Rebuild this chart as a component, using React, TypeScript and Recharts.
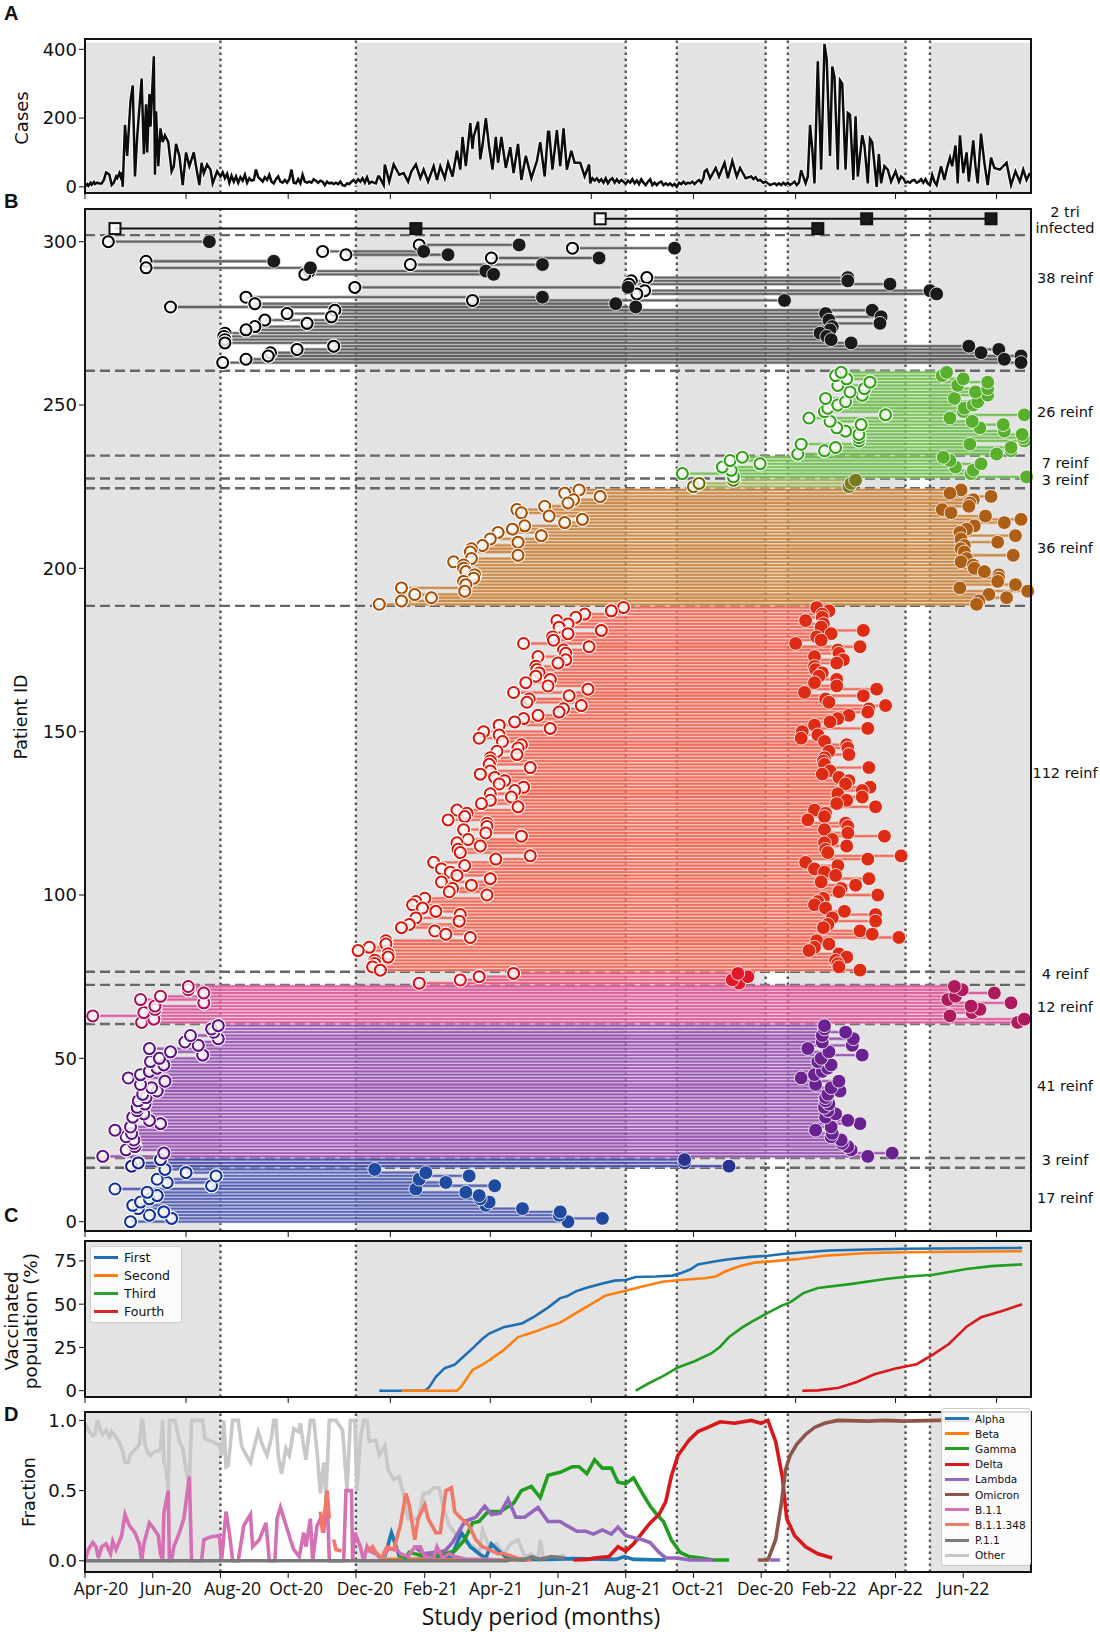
import { ComposedChart, ScatterChart, Scatter, Line, XAxis, YAxis, ReferenceArea, ReferenceLine } from 'recharts';

// days are counted from 1 Apr 2020
const quarterTicks = [0, 91, 183, 275, 365, 456, 548, 640, 730, 821];
const monthTicks = [0, 61, 122, 183, 244, 306, 365, 426, 487, 548, 609, 671, 730, 791];
const monthLabels = ['Apr-20', 'Jun-20', 'Aug-20', 'Oct-20', 'Dec-20', 'Feb-21', 'Apr-21', 'Jun-21', 'Aug-21', 'Oct-21', 'Dec-20', 'Feb-22', 'Apr-22', 'Jun-22'];
const grayBands = [[0, 122], [244, 487], [533, 613], [633, 739], [761, 852]];
const waveEdges = [122, 244, 487, 533, 613, 633, 739, 761];

// panel A
const casesDays = [0,2,3,5,6,8,9,11,13,15,17,19,20,22,24,26,28,29,31,32,33,34,36,38,41,43,45,47,51,53,55,56,58,59,62,63,64,66,68,70,72,75,78,80,82,85,88,91,94,98,100,103,105,107,110,113,115,119,
  122,124,126,128,130,132,134,136,138,140,142,144,146,148,150,152,154,156,158,160,162,164,166,168,170,172,174,176,178,180,182,184,186,188,190,192,194,196,198,200,202,204,206,208,210,212,214,216,218,220,222,224,226,228,230,232,234,236,238,240,242,244,246,248,250,252,254,256,258,260,262,264,
  265,269,270,274,278,283,287,291,294,298,302,305,309,314,317,320,324,327,331,335,338,340,343,347,349,350,354,356,358,361,364,367,370,372,375,379,383,386,390,393,397,402,407,410,414,417,
  418,421,425,428,431,434,438,441,446,450,454,455,457,459,461,463,465,467,469,471,473,475,477,479,481,483,485,487,489,491,493,495,497,499,501,503,505,507,509,511,513,515,517,519,521,523,525,527,529,531,533,535,537,539,541,543,545,547,549,551,553,555,557,558,560,563,568,571,576,579,583,587,590,595,600,602,604,606,608,611,613,615,617,619,621,623,625,627,629,631,633,635,637,639,641,643,645,649,651,653,655,657,660,663,666,668,671,673,675,678,680,682,685,687,689,692,694,696,700,702,705,707,709,713,715,717,720,723,726,730,733,735,737,739,741,743,745,747,749,751,753,755,757,759,761,763,765,767,771,774,776,779,781,784,786,788,791,794,796,800,802,804,807,810,813,816,819,824,830,834,838,842,845,848,851];
const casesCounts = [0,8,3,12,6,14,8,12,10,10,20,42,40,35,5,12,30,25,40,30,42,0,180,90,250,295,30,145,315,95,240,100,270,175,380,35,220,60,170,130,150,130,45,60,125,90,5,100,60,100,60,5,70,40,65,50,10,45,
  30,42,25,38,12,32,15,30,12,28,18,35,12,25,18,20,50,28,22,15,28,20,35,15,10,22,30,15,12,20,12,22,50,12,10,22,10,35,15,12,15,12,22,18,12,18,15,5,15,10,12,8,12,8,15,5,3,10,8,15,20,12,22,15,25,12,28,10,15,12,10,30,
  30,5,65,15,65,35,40,15,45,65,25,50,15,60,20,60,25,70,30,105,50,145,60,185,110,145,190,80,120,200,115,50,145,70,145,55,115,40,125,20,90,25,75,130,30,160,
  160,50,165,60,170,50,105,70,70,30,65,10,25,18,25,15,22,12,25,10,20,25,12,22,12,20,15,8,18,12,22,10,18,8,22,12,5,15,22,5,12,5,12,15,5,10,5,10,3,8,0,12,8,15,8,12,10,15,8,15,20,12,25,45,50,25,55,30,70,25,75,30,55,25,30,22,28,18,20,12,15,10,5,8,10,5,10,5,12,6,12,5,10,15,5,12,48,10,30,180,110,10,365,50,415,370,90,350,320,50,310,300,50,215,210,20,205,30,150,120,10,140,130,0,95,10,60,50,15,45,15,30,25,12,15,12,18,20,12,15,22,12,22,10,5,35,15,5,60,20,50,85,60,120,10,150,40,100,15,135,60,10,155,70,5,85,55,50,70,5,45,15,50,20,40];

// panel B, first and second infection day of each patient
const blueFirst = [41,78,58,71,48,43,50,58,65,56,27,114,74,65,118,91,72];
const blueSecond = [435,466,427,428,394,361,364,356,355,343,298,369,325,301,346,307,261];
const navyFirst = [42,48,68];
const navySecond = [580,540,540];
const purpleFirst = [16,71,37,45,44,44,37,42,27,41,68,58,43,53,47,47,54,48,55,52,65,60,50,72,39,50,58,65,71,59,67,106,77,58,102,90,120,95,116,114,120];
const purpleSecond = [705,727,690,687,682,681,672,673,658,672,698,687,667,676,669,666,670,667,667,669,680,672,658,679,645,657,664,669,672,660,663,700,670,651,691,664,692,664,685,666,666];
const magentaFirst = [51,62,7,53,63,63,107,50,68,107,93,93];
const magentaSecond = [840,846,779,799,806,798,834,777,784,819,790,783];
const crimsonFirst = [301,338,355,386];
const crimsonSecond = [589,583,597,588];
// red, brown and black are listed from the top row down
const redFirst = [485,474,450,442,425,435,427,465,435,421,422,395,454,431,433,408,433,426,406,407,409,406,419,397,417,453,386,436,400,398,447,431,427,408,395,387,373,419,359,373,355,376,393,390,371,389,365,365,364,401,365,356,369,378,373,395,387,365,384,365,357,390,335,344,342,327,362,362,341,361,393,345,335,356,336,338,401,370,314,342,321,329,335,365,321,348,331,328,362,306,298,295,304,316,338,298,337,292,285,315,325,347,271,271,256,246,273,273,261,261,259,266];
const redSecond = [659,670,664,664,649,665,663,701,672,659,663,640,698,678,679,657,683,677,657,658,664,661,677,657,677,713,648,701,667,670,721,706,705,688,678,671,657,705,646,660,645,666,686,687,670,688,666,665,666,706,671,664,679,688,685,707,700,678,700,686,677,712,657,667,666,651,685,687,666,687,720,673,666,686,667,669,735,705,649,678,657,666,676,706,663,694,681,679,714,665,660,657,667,684,712,673,712,669,665,698,709,733,659,670,657,652,679,686,676,678,679,698];
const brownFirst = [445,432,464,440,435,414,389,393,418,448,432,396,385,372,411,365,390,358,348,347,390,348,332,341,341,343,351,350,341,343,285,342,297,312,285,265];
const brownSecond = [789,779,816,800,797,796,772,780,811,843,828,801,794,788,838,789,822,792,789,792,836,794,789,800,801,810,823,823,822,838,788,849,814,830,805,803];
const oliveFirst = [548,553,584];
const oliveSecond = [688,690,694];
const greenSmallFirst = [584,538,582,574,608,581,592];
const greenSmallSecond = [848,798,800,784,807,779,773];
const greenFirst = [642,666,676,645,697,697,697,685,677,699,671,652,721,666,669,678,685,667,700,689,702,678,707,686,676,681];
const greenSecond = [821,834,834,797,846,845,844,828,806,827,799,779,846,791,792,800,804,783,813,802,813,786,813,791,772,776];
const blackFirst = [21,301,439,214,235,366,55,293,55,202,198,506,492,490,243,504,497,145,349,153,77,225,182,222,162,200,153,145,126,125,126,126,224,191,167,165,145,124];
const blackSecond = [112,391,531,305,327,463,170,412,203,361,368,687,687,725,489,761,767,412,630,478,496,709,667,717,670,716,673,671,662,668,672,690,796,823,807,843,828,843];
const triFirstRow = [27, 298, 660];
const triSecondRow = [464, 704, 816];
const groupBreaks = [17, 20, 61, 73, 77, 189, 225, 228, 235, 261, 302];

// panel C
const firstDoseDays = [265,306,310,316,324,333,339,350,358,364,377,394,405,417,428,434,442,451,466,477,487,496,514,529,537,545,552,568,580,600,615,628,647,670,705,737,768,844];
const firstDose = [0,0,2,8,13,15,18.6,25,30,33,36.6,39,43,48,53.5,54.5,57.4,59.3,62,63.6,64,65.7,66,66.5,68,70,73,74.8,76,77.3,78,79,80,81,81.6,82,82.2,82.5];
const secondDoseDays = [285,335,339,349,358,364,377,390,405,417,428,437,447,456,469,487,501,520,536,558,568,577,590,603,615,641,666,705,737,844];
const secondDose = [0,0,2.5,12,15,17.6,23.4,31,34,37,39.3,42.8,46.7,50,55,57.7,60,63,64,65,66,69,72,74,74.6,76,78,79.6,80,80.6];
const thirdDoseDays = [496,507,521,534,549,564,572,580,592,601,615,627,635,647,660,689,721,742,764,794,816,844];
const thirdDose = [0,4,8.5,13.4,17,21.5,25.4,31,36.6,40,45,49,51,56.4,59.3,61.6,64.5,66,67,70.3,72,73];
const fourthDoseDays = [646,660,679,695,711,730,749,764,778,794,807,826,844];
const fourthDose = [0,0.2,1.7,5,9.5,12.8,15.3,21,27,37,42.4,46,50];

// panel D
const otherDays = [0,3,7,9,11,14,16,19,22,24,28,31,34,36,39,41,45,49,51,52,54,56,59,63,66,68,70,71,73,75,76,81,85,88,92,94,96,106,108,114,121,123,125,127,129,133,138,141,144,149,152,156,160,164,168,170,172,174,177,181,184,188,192,194,196,199,203,206,209,212,215,217,220,226,232,236,239,243,245,248,251,254,256,262,265,270,273,278,283,286,291,295,300,305,309,314,319,322,328,333,339,346,350,355,358,364,371,377,383,390,396,402,408,410,413,424,430,434];
const otherShare = [.98,.93,.89,.9,1,.93,.9,.93,.88,.92,.88,.84,.78,.7,.7,.76,.79,.83,1,1,.83,.78,.75,.78,.78,.8,1,.7,.65,.5,1,1,.85,.8,.6,.55,1,1,.87,.85,.82,.75,1,.67,.68,1,1,.82,.77,.7,.8,.92,.82,.75,.88,1,1,.75,.62,.8,.75,.94,.92,.98,.86,.72,1,1,.78,.48,.7,.45,1,1,.93,.5,1,1,.5,.87,1,1,.85,.86,.75,.82,.65,.58,.6,.5,.3,.3,.3,.48,.48,.52,.52,.4,.25,.2,.15,.12,.1,.05,.22,.1,.12,.05,.12,.15,.03,.05,.01,.15,.01,.02,.04,.02];
const b11Days = [0,3,7,10,12,15,19,23,25,28,33,36,40,45,49,51,53,58,61,66,68,70,71,75,76,78,80,85,89,94,96,105,107,113,121,123,127,130,133,138,143,149,151,157,163,166,171,173,176,180,185,188,193,197,199,203,205,209,212,215,218,220,233,235,240,241,243,248,251,254,256,262,267,273,280,284,291,297,302,306,314,317,322,328,333,343,364,378];
const b11Share = [0,.08,.13,.1,.02,.1,.12,.05,.14,.08,.18,.33,.25,.2,.12,0,.12,.27,.24,.18,.05,0,.34,.5,0,0,.1,.2,.3,.6,0,0,.15,.17,.18,0,.35,.2,0,0,.25,.33,.1,.15,.27,0,0,.3,.38,.28,.15,.08,.03,.2,.1,.3,0,.25,.3,.2,.5,0,0,.5,.5,0,.2,.1,0,.1,.07,.05,.01,.08,.09,.05,.03,.1,.1,.03,.02,.1,.02,.05,.03,.01,.01,0];
const b11348Days = [212,214,218,220,222,224,226,231,240,254,259,262,267,272,278,284,289,292,297,300,306,309,316,320,325,330,333,339,346,352,358,364,372,378,385,393,402];
const b11348Share = [.35,.2,.5,.3,null,.15,.08,.07,null,.07,.1,.06,.02,.1,.08,.25,.48,.4,.15,.3,.4,.3,.2,.2,.5,.52,.35,.3,.25,.15,.1,.08,.05,.05,.03,.01,.01];
const alphaDays = [270,276,281,284,300,330,339,347,355,361,366,374,380,396,417,440,478,486,494,523];
const alphaShare = [.03,.2,.08,.01,.01,.03,.2,.1,.05,.02,.12,.06,.02,.01,.01,.015,.01,.03,.01,.005];
const betaDays = [268,300,340,400];
const betaShare = [.01,.01,.005,.005];
const gammaDays = [283,289,292,302,311,324,333,342,349,355,363,374,386,393,402,410,417,428,439,445,452,459,466,474,480,487,494,502,509,515,521,528,536,544,555,566,580];
const gammaShare = [.04,.02,.06,.04,.03,.05,.07,.15,.27,.28,.35,.35,.41,.5,.53,.45,.61,.63,.67,.67,.62,.72,.66,.66,.56,.55,.59,.48,.39,.33,.28,.15,.06,.03,.02,.005,.005];
const deltaDays = [440,453,459,472,480,487,494,502,509,517,523,528,534,544,552,561,572,585,600,609,615,622,628,632,635,639,649,660,673];
const deltaShare = [.005,.01,.02,.03,.1,.07,.12,.2,.27,.33,.42,.6,.75,.86,.92,.95,.99,.98,1,.98,1,.85,.6,.3,.25,.18,.1,.05,.02];
const lambdaDays = [297,305,324,331,342,352,360,366,374,381,388,396,408,417,428,434,443,451,458,466,474,480,487,496,502,509,517,523,533,545,566,590,617,626];
const lambdaShare = [.1,.05,.07,.13,.28,.31,.39,.33,.34,.44,.31,.31,.38,.28,.28,.25,.21,.21,.19,.22,.19,.24,.18,.16,.15,.13,.06,.02,.02,.005,.005,null,.005,.005];
const omicronDays = [606,615,622,627,631,635,641,649,657,666,678,705,721,737,768,800];
const omicronShare = [.005,.005,.15,.4,.65,.75,.83,.9,.95,.98,1,.995,1,.995,1,1];
const p11Days = [0,380,384,395,402,410,420,432];
const p11Share = [0,0,.01,.005,.03,.01,.03,.02];

const doseLegend = [['First', '#1f6fb4'], ['Second', '#ff7f0e'], ['Third', '#2ca02c'], ['Fourth', '#d62728']];
const variantLegend = [['Alpha', '#1f77b4'], ['Beta', '#ff7f0e'], ['Gamma', '#1f9e1f'], ['Delta', '#d9181c'], ['Lambda', '#9467bd'], ['Omicron', '#8c564b'], ['B.1.1', '#d670b4'], ['B.1.1.348', '#f07868'], ['P.1.1', '#7a7a7a'], ['Other', '#c8c8c8']];

const groups = [
  { start: 0, step: 1, first: blueFirst, second: blueSecond, line: '#3a48a8', open: '#0f2f9c', fill: '#1f4aa0' },
  { start: 17, step: 1, first: navyFirst, second: navySecond, line: '#2a2f9c', open: '#141a8c', fill: '#28348f' },
  { start: 20, step: 1, first: purpleFirst, second: purpleSecond, line: '#8a3aa8', open: '#5c1088', fill: '#6a2290' },
  { start: 61, step: 1, first: magentaFirst, second: magentaSecond, line: '#d8418e', open: '#b00c54', fill: '#ae1a5e' },
  { start: 73, step: 1, first: crimsonFirst, second: crimsonSecond, line: '#e8406a', open: '#e00a18', fill: '#e0182a' },
  { start: 188, step: -1, first: redFirst, second: redSecond, line: '#f0503c', open: '#dc1408', fill: '#de2c14' },
  { start: 224, step: -1, first: brownFirst, second: brownSecond, line: '#c47426', open: '#a84c00', fill: '#ae5f16' },
  { start: 225, step: 1, first: oliveFirst, second: oliveSecond, line: '#9aac48', open: '#6e6a00', fill: '#7a7a1e' },
  { start: 228, step: 1, first: greenSmallFirst, second: greenSmallSecond, line: '#5cb638', open: '#2fa012', fill: '#58b02c' },
  { start: 235, step: 1, first: greenFirst, second: greenSecond, line: '#5cb638', open: '#2fa012', fill: '#58b02c' },
  { start: 300, step: -1, first: blackFirst, second: blackSecond, line: '#444444', open: '#000000', fill: '#1a1a1a' },
];

const monthLabelShift = [16, 13, 12, 8, 9, 6, 6, 7, 7, 5, 4, -1, 0, 0];

const LEFT = 85;
const RIGHT = 1031;
const panelA = { top: 39, bottom: 193 };
const panelB = { top: 209, bottom: 1231 };
const panelC = { top: 1241, bottom: 1397 };
const panelD = { top: 1412, bottom: 1572 };
const TICK_FONT = { fontFamily: 'DejaVu Sans', fontSize: 18, fill: '#111' };
const DOTTED = { stroke: '#555', strokeWidth: 2.4, strokeDasharray: '2.4 3.6' };

const zip = (days: number[], values: (number | null)[]) => days.map((day, i) => ({ day, value: values[i] }));

function Frame({ top, bottom }: { top: number; bottom: number }) {
  return (
    <div style={{ position: 'absolute', boxSizing: 'border-box', left: LEFT - 1, top: top - 1, width: RIGHT - LEFT + 2, height: bottom - top + 2, border: '2px solid #111', pointerEvents: 'none' }} />
  );
}

// white edge, soft tint, then the darker core of a row
function haloLine(color: string, core = 1.8, coreOpacity = 0.72, tint = 0.38) {
  return (p: any) => {
    const pts = p.points || [];
    if (pts.length < 2) return <g />;
    const d = `M${pts[0].x},${pts[0].y}L${pts[1].x},${pts[1].y}`;
    return (
      <g>
        {tint > 0 && <path d={d} stroke="#fff" strokeWidth={3.6} strokeOpacity={0.42} fill="none" />}
        {tint > 0 && <path d={d} stroke={color} strokeWidth={3.3} strokeOpacity={tint} fill="none" />}
        <path d={d} stroke={color} strokeWidth={core} strokeOpacity={coreOpacity} fill="none" />
      </g>
    );
  };
}

const openDot = (color: string) => (p: any) => (
  <g>
    <circle cx={p.cx} cy={p.cy} r={7} fill="none" stroke="#fff" strokeWidth={1.2} />
    <circle cx={p.cx} cy={p.cy} r={5.5} fill="#fff" fillOpacity={0.82} stroke={color} strokeWidth={2} />
  </g>
);
const filledDot = (color: string) => (p: any) => (
  <circle cx={p.cx} cy={p.cy} r={6.9} fill={color} stroke="#fff" strokeWidth={0.8} />
);
const square = (fill: string) => (p: any) => (
  <rect x={p.cx - 5.5} y={p.cy - 5.5} width={11} height={11} fill={fill} fillOpacity={fill === '#fff' ? 0.85 : 1} stroke="#111" strokeWidth={2} />
);
const hiddenDot = () => <g />;

function bandAreas(low: number, high: number) {
  return grayBands.map(([a, b]) => (
    <ReferenceArea key={`band-${a}`} x1={a} x2={b} y1={low} y2={high} fill="#e3e3e3" fillOpacity={1} stroke="none" />
  ));
}

function edgeLines() {
  return waveEdges.map((d) => <ReferenceLine key={`edge-${d}`} x={d} {...DOTTED} />);
}

const plainXAxis = (
  <XAxis dataKey="day" type="number" domain={[0, 852]} ticks={quarterTicks} tickFormatter={() => ''} height={10} tickSize={6} axisLine={false} stroke="#111" />
);

function CasesPanel() {
  const data = zip(casesDays, casesCounts);
  return (
    <div style={{ position: 'absolute', left: 0, top: 0 }}>
      <ComposedChart width={1100} height={panelA.bottom + 10} margin={{ top: panelA.top, right: 1100 - RIGHT, bottom: 0, left: 0 }}>
        {plainXAxis}
        <YAxis type="number" domain={[-18, 430]} ticks={[0, 200, 400]} width={LEFT} tick={TICK_FONT} axisLine={false} tickSize={6} stroke="#111" />
        {bandAreas(-15, 420)}
        {edgeLines()}
        <Line data={data} dataKey="value" stroke="#fff" strokeWidth={4.2} dot={false} isAnimationActive={false} />
        <Line data={data} dataKey="value" stroke="#0c0c0c" strokeWidth={2.5} dot={false} isAnimationActive={false} />
      </ComposedChart>
    </div>
  );
}

function PatientsPanel() {
  return (
    <div style={{ position: 'absolute', left: 0, top: 0 }}>
      <ScatterChart width={1100} height={panelB.bottom + 10} margin={{ top: panelB.top, right: 1100 - RIGHT, bottom: 0, left: 0 }}>
        {plainXAxis}
        <YAxis dataKey="id" type="number" domain={[-2.85, 310]} ticks={[0, 50, 100, 150, 200, 250, 300]} width={LEFT} tick={TICK_FONT} axisLine={false} tickSize={6} stroke="#111" />
        {bandAreas(-2.85, 310)}
        {groups.flatMap((g) =>
          g.first.map((day, i) => {
            const id = g.start + g.step * i;
            return (
              <Scatter
                key={`row-${id}`}
                data={[{ day, id }, { day: g.second[i], id }]}
                line={haloLine(g.line)}
                shape={hiddenDot}
                isAnimationActive={false}
              />
            );
          })
        )}
        {edgeLines()}
        {groupBreaks.map((b) => (
          <ReferenceLine key={`break-${b}`} y={b === 302 ? b : b - 0.5} stroke="#666" strokeWidth={2.4} strokeDasharray="10 5" />
        ))}
        {groups.map((g, gi) => (
          <Scatter key={`open-${gi}`} data={g.first.map((day, i) => ({ day, id: g.start + g.step * i }))} shape={openDot(g.open)} isAnimationActive={false} />
        ))}
        {groups.map((g, gi) => (
          <Scatter key={`filled-${gi}`} data={g.second.map((day, i) => ({ day, id: g.start + g.step * i }))} shape={filledDot(g.fill)} isAnimationActive={false} />
        ))}
        <Scatter data={[{ day: triFirstRow[0], id: 304 }, { day: triFirstRow[2], id: 304 }]} line={haloLine('#111', 2, 1, 0)} shape={hiddenDot} isAnimationActive={false} />
        <Scatter data={[{ day: triSecondRow[0], id: 307 }, { day: triSecondRow[2], id: 307 }]} line={haloLine('#111', 2, 1, 0)} shape={hiddenDot} isAnimationActive={false} />
        <Scatter data={[{ day: triFirstRow[0], id: 304 }, { day: triSecondRow[0], id: 307 }]} shape={square('#fff')} isAnimationActive={false} />
        <Scatter data={[{ day: triFirstRow[1], id: 304 }, { day: triFirstRow[2], id: 304 }, { day: triSecondRow[1], id: 307 }, { day: triSecondRow[2], id: 307 }]} shape={square('#1a1a1a')} isAnimationActive={false} />
      </ScatterChart>
    </div>
  );
}

function VaccinePanel() {
  const rows: [number[], number[], string][] = [
    [firstDoseDays, firstDose, '#1f6fb4'],
    [secondDoseDays, secondDose, '#ff7f0e'],
    [thirdDoseDays, thirdDose, '#1f9e1f'],
    [fourthDoseDays, fourthDose, '#d9181c'],
  ];
  return (
    <div style={{ position: 'absolute', left: 0, top: 0 }}>
      <ComposedChart width={1100} height={panelC.bottom + 10} margin={{ top: panelC.top, right: 1100 - RIGHT, bottom: 0, left: 0 }}>
        {plainXAxis}
        <YAxis type="number" domain={[-3.65, 86.5]} ticks={[0, 25, 50, 75]} width={LEFT} tick={TICK_FONT} axisLine={false} tickSize={6} stroke="#111" />
        {bandAreas(-3.65, 86.5)}
        {edgeLines()}
        {rows.map(([days, values, color], i) => (
          <Line key={i} data={zip(days, values)} dataKey="value" stroke={color} strokeWidth={2.6} dot={false} isAnimationActive={false} />
        ))}
      </ComposedChart>
    </div>
  );
}

const monthTick = (p: any) => (
  <text x={p.x + monthLabelShift[p.index]} y={p.y + 15} textAnchor="middle" fontFamily="Open Sans" fontSize={17.5} fill="#111">
    {monthLabels[p.index]}
  </text>
);

function VariantPanel() {
  const rows: [number[], (number | null)[], string][] = [
    [otherDays, otherShare, '#c8c8c8'],
    [alphaDays, alphaShare, '#1f77b4'],
    [betaDays, betaShare, '#ff7f0e'],
    [gammaDays, gammaShare, '#1f9e1f'],
    [deltaDays, deltaShare, '#d9181c'],
    [lambdaDays, lambdaShare, '#9467bd'],
    [omicronDays, omicronShare, '#8c564b'],
    [b11Days, b11Share, '#d670b4'],
    [b11348Days, b11348Share, '#f07868'],
    [p11Days, p11Share, '#7a7a7a'],
  ];
  return (
    <div style={{ position: 'absolute', left: 0, top: 0 }}>
      <ComposedChart width={1100} height={panelD.bottom + 40} margin={{ top: panelD.top, right: 1100 - RIGHT, bottom: 0, left: 0 }}>
        <XAxis dataKey="day" type="number" domain={[0, 852]} ticks={monthTicks} interval={0} height={40} tick={monthTick} tickSize={6} axisLine={false} stroke="#111" />
        <YAxis type="number" domain={[-0.08, 1.06]} ticks={[0, 0.5, 1]} tickFormatter={(v: number) => v.toFixed(1)} width={LEFT} tick={TICK_FONT} axisLine={false} tickSize={6} stroke="#111" />
        {bandAreas(-0.08, 1.06)}
        {edgeLines()}
        {rows.map(([days, values, color], i) => (
          <Line key={i} data={zip(days, values)} dataKey="value" stroke={color} strokeWidth={3.6} dot={false} isAnimationActive={false} />
        ))}
      </ComposedChart>
    </div>
  );
}

function LegendBox({ items, left, top, width, rowH, font }: { items: string[][]; left: number; top: number; width: number; rowH: number; font: number }) {
  return (
    <div style={{ position: 'absolute', left, top, width, padding: '2px 0', background: 'rgba(255,255,255,0.85)', border: '1px solid #ccc', borderRadius: 3, fontFamily: 'DejaVu Sans', fontSize: font, color: '#111' }}>
      {items.map(([name, color]) => (
        <div key={name} style={{ height: rowH, display: 'flex', alignItems: 'center' }}>
          <span style={{ display: 'inline-block', width: 24, height: 3, background: color, margin: '0 6px 0 3px' }} />
          {name}
        </div>
      ))}
    </div>
  );
}

const notes: [string, number][] = [
  ['2 tri', 213], ['infected', 229], ['38 reinf', 279], ['26 reinf', 413], ['7 reinf', 464], ['3 reinf', 481],
  ['36 reinf', 549], ['112 reinf', 774], ['4 reinf', 975], ['12 reinf', 1008], ['41 reinf', 1087], ['3 reinf', 1161], ['17 reinf', 1199],
];
const letters: [string, number][] = [['A', 13], ['B', 201], ['C', 1215], ['D', 1414]];

const AXIS_LABEL = { textAnchor: 'middle' as const, fontFamily: 'DejaVu Sans', fill: '#111' };

export default function App() {
  return (
    <div style={{ position: 'absolute', left: 0, top: 0, width: 1100, height: 1637, background: '#fff', overflow: 'hidden' }}>
      <CasesPanel />
      <PatientsPanel />
      <VaccinePanel />
      <VariantPanel />
      <Frame {...panelA} />
      <Frame {...panelB} />
      <Frame {...panelC} />
      <Frame {...panelD} />
      <LegendBox items={doseLegend} left={90} top={1246} width={90} rowH={17.8} font={12.5} />
      <LegendBox items={variantLegend} left={941} top={1408} width={88} rowH={15.2} font={10.5} />
      <svg width={1100} height={1637} style={{ position: 'absolute', left: 0, top: 0, pointerEvents: 'none' }}>
        {notes.map(([t, y], i) => (
          <text key={i} x={1065} y={y} textAnchor="middle" dominantBaseline="middle" fontFamily="DejaVu Sans" fontSize={14.5} fill="#111">{t}</text>
        ))}
        {letters.map(([t, y]) => (
          <text key={t} x={4} y={y + 7} fontFamily="Liberation Sans" fontWeight="bold" fontSize={20} fill="#111">{t}</text>
        ))}
        <text transform="translate(28,118) rotate(-90)" fontSize={18} {...AXIS_LABEL}>Cases</text>
        <text transform="translate(27,717) rotate(-90)" fontSize={17.5} {...AXIS_LABEL}>Patient ID</text>
        <text transform="translate(18,1321) rotate(-90)" fontSize={18} {...AXIS_LABEL}>Vaccinated</text>
        <text transform="translate(37,1321) rotate(-90)" fontSize={18.5} {...AXIS_LABEL}>population (%)</text>
        <text transform="translate(35,1492) rotate(-90)" fontSize={17.5} {...AXIS_LABEL}>Fraction</text>
        <text x={541} y={1625} textAnchor="middle" fontFamily="Open Sans" fontSize={23} fill="#111">Study period (months)</text>
      </svg>
    </div>
  );
}
